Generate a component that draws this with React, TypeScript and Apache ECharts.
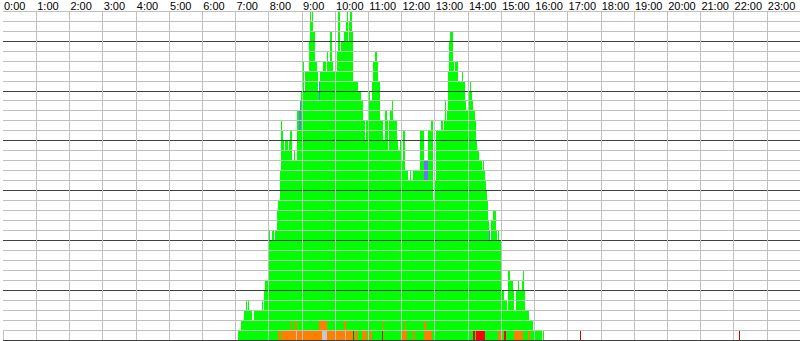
import React, { useEffect, useRef } from "react";
import * as echarts from "echarts";

// Time axis: minutes of the day (0..1440); y: count of events (0..33)
const hourTicks = Array.from({ length: 24 }, (_, h) => `${h}:00`);

// Green profile: each segment starts at profileStart[i] and ends at profileStart[i+1]
const profileStart = [
  425, 430, 435, 437, 438, 439, 441, 443, 444, 450, 453, 468, 470, 472, 474, 480, 482, 486, 489, 491,
  495, 496, 501, 503, 504, 506, 507, 508, 510, 515, 517, 519, 522, 525, 528, 531, 532, 536, 538, 542,
  544, 546, 552, 554, 555, 557, 558, 561, 564, 567, 569, 571, 573, 579, 583, 585, 588, 591, 594, 596,
  603, 605, 608, 611, 614, 615, 617, 619, 621, 623, 626, 627, 630, 633, 642, 646, 650, 654, 656, 660,
  663, 666, 668, 672, 673, 675, 676, 681, 687, 690, 693, 696, 698, 699, 702, 705, 711, 714, 717, 720,
  723, 726, 731, 735, 738, 741, 753, 760, 767, 768, 774, 777, 781, 783, 792, 795, 797, 799, 801, 803,
  804, 805, 807, 809, 810, 813, 814, 816, 822, 829, 832, 834, 837, 840, 842, 843, 846, 847, 849, 850,
  852, 855, 856, 860, 863, 864, 865, 867, 869, 870, 871, 874, 876, 878, 879, 882, 885, 891, 893, 895,
  897, 900, 902, 906, 910, 912, 916, 921, 924, 927, 930, 933, 937, 939, 941, 942, 948, 949, 951, 957,
  974, 975, 978,
];
const profileValue = [
  1, 2, 3, 2, 3, 4, 3, 4, 3, 2, 3, 4, 3, 5, 6, 11, 10, 11, 10, 11,
  13, 14, 17, 22, 21, 20, 19, 17, 20, 19, 20, 21, 18, 19, 18, 21, 23, 24, 25, 28,
  25, 27, 30, 31, 33, 32, 33, 31, 28, 27, 25, 26, 27, 28, 27, 29, 28, 31, 28, 27,
  29, 33, 29, 30, 29, 30, 31, 32, 33, 30, 32, 33, 31, 26, 25, 24, 22, 20, 22, 25,
  24, 26, 28, 27, 29, 28, 26, 22, 20, 23, 22, 19, 22, 23, 24, 22, 20, 19, 20, 18,
  21, 17, 16, 17, 16, 17, 21, 18, 16, 21, 22, 14, 16, 21, 22, 21, 22, 24, 22, 23,
  27, 30, 31, 30, 31, 28, 27, 28, 26, 27, 26, 24, 23, 26, 25, 26, 25, 24, 22, 23,
  22, 20, 19, 18, 17, 18, 17, 18, 17, 16, 15, 14, 12, 11, 10, 12, 13, 11, 10, 11,
  10, 4, 5, 4, 3, 7, 6, 5, 3, 5, 6, 5, 6, 7, 5, 3, 2, 3, 2, 1,
  0, 1, 0,
];

// Coloured cells: [startMinute, endMinute]
const orangeRow1 = [
  [497, 501], [503, 529], [531, 577], [585, 618], [619, 630], [636, 642], [648, 657],
  [663, 667], [721, 730], [741, 745], [760, 775], [895, 900], [924, 939], [949, 952],
];
const orangeRow2 = [[518, 521], [528, 531], [571, 585], [617, 620], [684, 687], [726, 729], [761, 765]];
const grayRow1 = [[529, 531], [577, 585], [618, 619], [685, 687]];
const redRow1 = [[632, 634], [684, 685], [849, 853], [855, 870], [906, 909]];
const lateRedRow1 = [[1042, 1044], [1330, 1332]];
// Blue cells: [startMinute, endMinute, fromRow, toRow]
const blueCells = [[534, 536, 21, 23], [536, 538, 21, 24], [571, 572, 24, 26], [761, 767, 16, 18], [878, 879, 10, 11]];

const rowCells = (list: number[][], row: number) => list.map(([s, e]) => [s, e, row - 1, row]);

const rectItem = (color: string) => (params: any, api: any) => {
  const a = api.coord([api.value(0), api.value(2)]);
  const b = api.coord([api.value(1), api.value(3)]);
  const x0 = Math.round(a[0]);
  const x1 = Math.max(Math.round(b[0]), x0 + 1);
  const y0 = Math.round(b[1]);
  const y1 = Math.round(a[1]);
  return {
    type: "rect",
    shape: { x: x0, y: y0, width: x1 - x0, height: Math.max(0, y1 - y0) },
    style: { fill: color },
  };
};

const cellSeries = (name: string, data: number[][], color: string, z: number) => ({
  name,
  type: "custom",
  renderItem: rectItem(color),
  encode: { x: [0, 1], y: [2, 3] },
  data,
  z,
  clip: true,
});

export default function App() {
  const ref = useRef<HTMLDivElement>(null);
  useEffect(() => {
    if (!ref.current) return;
    const chart = echarts.init(ref.current, null, { renderer: "svg" });
    const profile = profileValue.slice(0, profileValue.length - 1).map((v, i) => [
      profileStart[i], profileStart[i + 1], 0, v,
    ]);
    chart.setOption({
      animation: false,
      backgroundColor: "#ffffff",
      grid: { left: 0, right: 0, top: 10, bottom: 1 },
      xAxis: {
        type: "value",
        position: "top",
        min: 0,
        max: 1440,
        interval: 60,
        z: 10,
        axisLine: { show: false },
        axisTick: { show: true, inside: false, length: 10, lineStyle: { color: "#c0c0c0", width: 1 } },
        axisLabel: {
          show: true,
          formatter: (v: number) => hourTicks[Math.round(v / 60)] ?? "",
          align: "left",
          margin: 0,
          padding: [0, 0, 0, 1],
          color: "#000000",
          fontFamily: "Liberation Sans",
          fontSize: 11,
          lineHeight: 11,
          showMaxLabel: false,
        },
        splitLine: { show: true, showMinLine: false, lineStyle: { color: "#c0c0c0", width: 1 } },
      },
      yAxis: {
        type: "value",
        min: 0,
        max: 33,
        interval: 1,
        z: 10,
        axisLine: { show: false },
        axisTick: { show: false },
        axisLabel: { show: false },
        splitLine: {
          show: true,
          lineStyle: { color: ["#404040", "#c0c0c0", "#c0c0c0", "#c0c0c0", "#c0c0c0"], width: 1 },
        },
      },
      series: [
        cellSeries("profile", profile, "#00ff00", 2),
        cellSeries("orange1", rowCells(orangeRow1, 1), "#ff8000", 3),
        cellSeries("orange2", rowCells(orangeRow2, 2), "#ff8000", 3),
        cellSeries("gray1", rowCells(grayRow1, 1), "#c8c8c8", 3),
        cellSeries("red1", rowCells(redRow1, 1), "#ff0000", 3),
        cellSeries("lateRed", rowCells(lateRedRow1, 1), "#d00000", 3),
        cellSeries("blue", blueCells, "#7070ff", 3),
      ],
    });
    return () => chart.dispose();
  }, []);
  return <div ref={ref} style={{ position: "absolute", left: 0, top: 0, width: 800, height: 341 }} />;
}
